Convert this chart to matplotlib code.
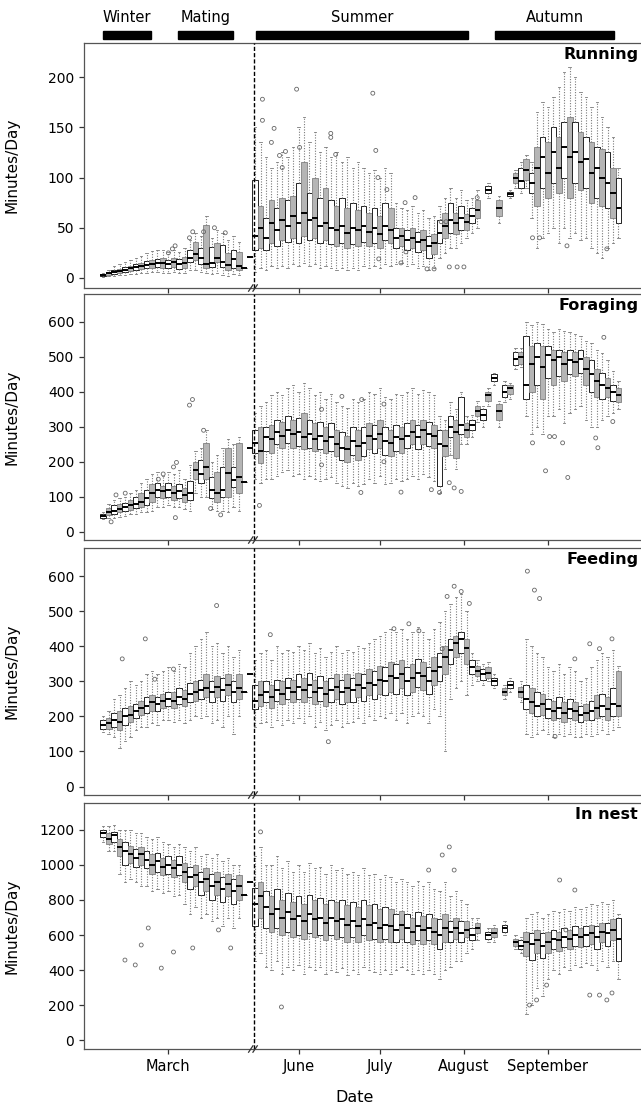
import numpy as np
import matplotlib
matplotlib.use("Agg")
import matplotlib.pyplot as plt
from matplotlib.transforms import blended_transform_factory

nan = float("nan")

# one box every second day, left block = winter/mating, right block = summer/autumn
left_days = list(range(36, 92, 2))
right_days = list(range(136, 272, 2))
days = left_days + right_days
BREAK = 91.5   # where the axis is cut
GAP = 44       # days removed between the two blocks

month_names = ["March", "June", "July", "August", "September"]
month_days = [60, 152, 182, 213, 244]

season_names = ["Winter", "Mating", "Summer", "Autumn"]
season_start = [36, 63.7, 136.4, 224.6]
season_end = [53.7, 83.7, 214.6, 268.3]

# ---------------- Running ----------------
run_med = [3, 5, 6, 7, 8, 10, 11, 12, 13, 14, 15, 15, 14, 16, 14, 15, 20, 24, 20, 14, 15, 20, 16, 13, 19, 12, 10, 21,
           42, 50, 40, 55, 48, 58, 52, 62, 55, 65, 58, 60, 52, 55, 50, 48, 52, 45, 50, 48,
           52, 46, 50, 44, 52, 48, 40, 42, 38, 40, 36, 38, 32, 35, 45, 52, 58, 55, 60, 56,
           62, 68, nan, 88, nan, 70, nan, 84, 100, 97, 108, 95, 110, 120, 105, 125, 110, 130, 120, 125,
           115, 118, 105, 110, 100, 95, 85, 70]
run_q1 = [2, 3, 4, 5, 6, 7, 8, 9, 10, 10, 11, 10, 10, 11, 9, 10, 16, 18, 14, 10, 11, 16, 11, 8, 10, 8, 10, 21,
          28, 30, 28, 35, 32, 38, 36, 40, 35, 42, 38, 40, 35, 38, 34, 32, 35, 30, 34, 32,
          36, 32, 35, 30, 38, 35, 30, 32, 28, 30, 26, 28, 20, 24, 35, 40, 45, 44, 48, 48,
          55, 60, nan, 85, nan, 62, nan, 82, 95, 90, 98, 85, 72, 90, 80, 95, 85, 100, 80, 95,
          88, 90, 75, 80, 72, 70, 60, 55]
run_q3 = [4, 6, 8, 9, 11, 12, 14, 15, 17, 18, 19, 20, 18, 20, 19, 21, 28, 36, 30, 53, 31, 35, 33, 25, 28, 26, 10, 21,
          98, 72, 60, 78, 70, 80, 78, 82, 95, 115, 85, 100, 80, 90, 78, 72, 80, 70, 75, 68,
          72, 65, 70, 62, 75, 70, 50, 50, 48, 50, 46, 48, 42, 44, 58, 65, 75, 65, 72, 64,
          70, 78, nan, 92, nan, 78, nan, 86, 105, 110, 118, 105, 130, 140, 135, 150, 140, 155, 160, 155,
          145, 140, 135, 130, 128, 125, 110, 100]
run_lo = [1, 2, 2, 3, 3, 4, 4, 5, 5, 6, 6, 5, 5, 6, 5, 5, 8, 8, 6, 5, 4, 5, 3, 2, 4, 3, 10, 21,
          6, 10, 8, 12, 10, 12, 10, 14, 12, 15, 12, 14, 10, 12, 10, 8, 10, 8, 10, 8,
          12, 10, 12, 10, 14, 12, 14, 15, 12, 14, 10, 12, 8, 10, 20, 25, 30, 30, 35, 40,
          45, 50, nan, 80, nan, 55, nan, 80, 90, 85, 90, 60, 30, 40, 45, 50, 35, 50, 40, 45,
          38, 40, 30, 25, 20, 30, 35, 40]
run_hi = [5, 8, 12, 14, 16, 18, 20, 22, 25, 27, 28, 28, 26, 28, 26, 30, 38, 45, 42, 62, 40, 48, 45, 38, 42, 36, 10, 21,
          150, 135, 120, 110, 115, 125, 120, 130, 150, 160, 135, 145, 125, 130, 120, 125, 115, 120, 110, 115,
          110, 105, 108, 100, 110, 105, 75, 70, 68, 72, 65, 68, 60, 62, 72, 80, 90, 80, 88, 78,
          80, 88, nan, 95, nan, 82, nan, 88, 108, 115, 122, 115, 165, 175, 170, 180, 190, 205, 210, 200,
          185, 180, 170, 175, 160, 150, 140, 110]
run_out_day = [61.5, 62.5, 60, 67.8, 69, 73, 77, 81,
               138.7, 138.7, 151.3, 179.4, 143, 142, 152.4, 163.9, 163.9, 165.7, 147.2, 145, 146,
               180.5, 181.3, 184.6, 195, 191.3, 206.4, 204.6, 191.6, 189.8, 181.6, 199.4, 202,
               207.6, 210.5, 213, 238.3, 240.9, 251, 265.7, 217.9]
run_out_val = [29, 32, 25, 40, 46, 46, 50, 45,
               178, 157, 188, 184, 149, 135, 130, 144, 140, 123, 126, 122, 110,
               127, 100, 88, 80, 75, 56, 56, 26, 15, 19, 9, 9,
               11, 11, 11, 40, 40, 32, 29, 80]

# ---------------- Foraging ----------------
for_med = [45, 55, 60, 65, 70, 75, 80, 85, 95, 110, 120, 115, 120, 110, 115, 105, 110, 175, 165, 185, 118, 110, 118, 168, 148, 157, 143, 240,
           255, 230, 270, 265, 285, 275, 290, 280, 285, 270, 280, 265, 275, 260, 270, 250, 240, 235, 260, 245,
           255, 275, 265, 280, 260, 255, 270, 265, 275, 285, 270, 290, 280, 275, 250, 245, 300, 285, 305, 290,
           305, 345, 335, 390, 440, 345, 400, 410, 495, 500, 420, 480, 500, 470, 505, 490, 500, 480, 490, 485,
           495, 465, 450, 430, 420, 410, 400, 390]
for_q1 = [40, 48, 50, 55, 58, 62, 68, 70, 75, 85, 100, 95, 100, 90, 95, 85, 90, 150, 140, 150, 95, 86, 100, 100, 128, 110, 143, 240,
          225, 195, 230, 225, 250, 240, 255, 240, 245, 235, 240, 230, 235, 225, 230, 215, 205, 200, 220, 205,
          215, 235, 225, 240, 220, 215, 230, 225, 240, 250, 235, 250, 245, 240, 130, 215, 270, 210, 280, 270,
          290, 330, 320, 375, 430, 320, 385, 395, 478, 480, 380, 400, 420, 380, 440, 420, 445, 430, 450, 445,
          455, 420, 400, 385, 380, 385, 375, 370]
for_q3 = [50, 68, 75, 78, 82, 90, 98, 110, 120, 135, 140, 130, 140, 130, 135, 125, 145, 200, 205, 255, 155, 172, 186, 240, 184, 254, 143, 240,
          290, 300, 300, 305, 320, 315, 330, 320, 325, 340, 320, 310, 315, 300, 310, 290, 285, 275, 300, 290,
          300, 310, 305, 320, 300, 290, 305, 300, 310, 320, 305, 320, 315, 305, 290, 290, 330, 320, 385, 310,
          320, 360, 350, 400, 450, 365, 420, 420, 515, 515, 560, 530, 540, 530, 530, 520, 520, 515, 520, 515,
          520, 500, 490, 465, 455, 440, 420, 410]
for_lo = [35, 40, 40, 42, 45, 50, 50, 55, 55, 60, 70, 70, 75, 70, 70, 65, 60, 110, 100, 100, 65, 60, 60, 55, 70, 60, 143, 240,
          150, 140, 150, 150, 160, 170, 175, 160, 165, 150, 160, 150, 145, 150, 155, 140, 130, 125, 140, 130,
          135, 150, 140, 160, 135, 140, 150, 145, 150, 160, 150, 165, 155, 145, 110, 180, 220, 180, 250, 250,
          270, 315, 300, 360, 420, 300, 370, 380, 465, 470, 330, 280, 300, 280, 330, 330, 350, 310, 340, 350,
          360, 320, 300, 300, 320, 330, 340, 350]
for_hi = [55, 78, 90, 95, 100, 110, 120, 140, 150, 165, 170, 160, 170, 165, 175, 150, 190, 230, 240, 290, 200, 220, 240, 265, 250, 270, 143, 240,
          340, 360, 370, 390, 400, 390, 410, 420, 400, 425, 410, 390, 400, 380, 395, 370, 360, 355, 380, 370,
          380, 400, 395, 410, 385, 380, 395, 390, 400, 410, 395, 405, 400, 390, 330, 320, 370, 350, 400, 330,
          335, 375, 360, 410, 455, 375, 430, 425, 525, 525, 600, 590, 600, 595, 580, 570, 580, 575, 570, 565,
          560, 545, 540, 520, 510, 490, 460, 430]
for_out_day = [38.9, 44.1, 40.7, 67.8, 68.9, 73, 62.6, 79.3, 75.6, 61.9, 63, 58.1, 56.3,
               137.6, 207.6, 209.4, 212, 243.1, 251.3, 264.6, 238.3, 244.6, 246.4, 249.4, 262.4,
               267.9, 261.6, 168, 175.3, 183.5, 183.5, 175, 189.8, 204, 160.5, 160.5, 201]
for_out_val = [28, 110, 105, 362, 378, 290, 40, 48, 66, 185, 198, 165, 150,
               75, 140, 125, 115, 174, 155, 556, 254, 272, 272, 254, 240,
               315, 268, 387, 378, 365, 200, 112, 113, 112, 350, 191, 120]

# ---------------- Feeding ----------------
fed_med = [175, 180, 190, 185, 200, 205, 215, 225, 230, 240, 235, 245, 250, 245, 255, 250, 265, 270, 275, 280, 270, 285, 275, 290, 270, 280, 270, 320,
           245, 260, 270, 255, 275, 265, 280, 270, 285, 275, 290, 270, 280, 265, 275, 285, 270, 280, 275, 290,
           280, 295, 290, 305, 300, 315, 310, 320, 300, 310, 325, 315, 300, 330, 340, 370, 390, 410, 420, 395,
           340, 330, 320, 325, 300, nan, 270, 290, nan, 270, 250, 240, 230, 235, 220, 215, 225, 210, 220, 215,
           205, 210, 215, 225, 230, 220, 235, 230]
fed_q1 = [165, 165, 170, 160, 175, 185, 195, 205, 210, 215, 215, 225, 230, 225, 235, 230, 240, 245, 250, 255, 240, 255, 245, 260, 240, 250, 270, 320,
          220, 230, 240, 225, 245, 235, 250, 240, 250, 240, 255, 235, 245, 230, 240, 250, 235, 240, 240, 255,
          245, 260, 250, 265, 260, 270, 265, 280, 260, 270, 285, 275, 265, 290, 300, 320, 350, 370, 380, 350,
          320, 315, 305, 310, 290, nan, 260, 280, nan, 255, 220, 210, 200, 205, 195, 190, 195, 185, 195, 190,
          185, 190, 190, 195, 200, 190, 200, 200]
fed_q3 = [190, 195, 210, 215, 225, 230, 235, 245, 255, 260, 255, 265, 270, 270, 280, 275, 295, 300, 305, 320, 300, 315, 310, 320, 300, 320, 270, 320,
          290, 300, 300, 290, 305, 300, 310, 305, 320, 310, 325, 305, 315, 300, 310, 320, 305, 320, 310, 325,
          320, 335, 330, 345, 340, 355, 350, 360, 340, 350, 365, 355, 340, 370, 380, 400, 420, 430, 440, 420,
          360, 345, 335, 340, 310, nan, 280, 300, nan, 285, 290, 280, 270, 265, 250, 245, 255, 240, 250, 240,
          230, 235, 245, 260, 265, 255, 280, 330]
fed_lo = [155, 150, 140, 110, 130, 140, 160, 170, 170, 180, 175, 190, 190, 185, 190, 180, 190, 200, 195, 200, 180, 190, 170, 200, 150, 200, 270, 320,
          170, 180, 185, 170, 190, 175, 190, 180, 195, 180, 200, 170, 185, 160, 175, 190, 170, 180, 185, 195,
          180, 200, 190, 200, 195, 210, 190, 210, 180, 200, 210, 200, 180, 220, 200, 100, 250, 280, 300, 260,
          290, 300, 290, 300, 280, nan, 250, 270, nan, 240, 150, 140, 150, 160, 150, 140, 150, 145, 150, 140,
          140, 150, 145, 150, 160, 150, 160, 170]
fed_hi = [200, 215, 250, 260, 280, 300, 290, 300, 320, 330, 320, 330, 340, 330, 350, 340, 380, 400, 420, 440, 400, 410, 380, 400, 370, 390, 270, 320,
          360, 380, 390, 360, 400, 380, 390, 385, 400, 390, 410, 380, 395, 370, 385, 400, 380, 390, 385, 400,
          395, 410, 420, 430, 440, 450, 440, 450, 420, 440, 455, 440, 420, 450, 470, 500, 520, 540, 550, 500,
          380, 360, 350, 355, 320, nan, 290, 310, nan, 300, 420, 400, 380, 370, 340, 330, 350, 320, 340, 330,
          300, 310, 340, 360, 380, 370, 390, 345]
fed_out_day = [43, 51.5, 77.8, 55, 61.9,
               141.6, 163, 187.2, 192.7, 196.4, 206.8, 209.4, 212, 215, 236.4, 239, 240.9,
               259.4, 253.9, 263, 267.6, 246.6, 205]
fed_out_val = [364, 421, 516, 306, 335,
               433, 128, 450, 464, 444, 542, 571, 556, 522, 614, 560, 536,
               407, 364, 393, 421, 143, 393]

# ---------------- In nest ----------------
nest_med = [1180, 1150, 1170, 1100, 1080, 1060, 1040, 1060, 1030, 1000, 1020, 990, 1000, 980, 1000, 960, 930, 940, 900, 920, 880, 900, 860, 890, 850, 880, 830, 900,
            780, 820, 760, 720, 750, 700, 730, 690, 710, 680, 720, 690, 700, 670, 700, 680, 690, 660, 680, 650,
            690, 660, 670, 640, 660, 650, 630, 660, 640, 620, 650, 630, 640, 620, 600, 640, 620, 640, 610, 630,
            600, 640, nan, 600, 610, nan, 640, nan, 560, 540, 560, 550, 570, 540, 560, 580, 570, 590, 580, 600,
            590, 600, 610, 590, 620, 610, 630, 580]
nest_q1 = [1160, 1120, 1130, 1050, 1000, 1010, 990, 1000, 980, 950, 960, 940, 950, 930, 940, 900, 860, 880, 830, 850, 800, 830, 790, 820, 780, 800, 830, 900,
           650, 700, 640, 620, 640, 600, 620, 590, 600, 580, 610, 590, 600, 570, 600, 580, 590, 560, 590, 560,
           600, 570, 580, 560, 580, 560, 560, 580, 560, 550, 570, 550, 570, 550, 520, 560, 560, 580, 560, 590,
           570, 610, nan, 580, 590, nan, 620, nan, 540, 520, 480, 460, 500, 470, 500, 520, 510, 530, 520, 540,
           530, 540, 550, 520, 560, 540, 570, 450]
nest_q3 = [1200, 1180, 1190, 1150, 1130, 1110, 1090, 1100, 1080, 1060, 1070, 1040, 1050, 1030, 1050, 1010, 990, 1000, 960, 980, 950, 960, 930, 950, 920, 940, 830, 900,
           870, 900, 850, 820, 860, 800, 840, 790, 820, 780, 830, 800, 810, 780, 800, 790, 800, 770, 790, 760,
           800, 770, 780, 750, 760, 750, 720, 740, 720, 700, 730, 710, 720, 700, 690, 720, 680, 700, 680, 680,
           640, 670, nan, 620, 640, nan, 660, nan, 580, 570, 620, 610, 630, 610, 620, 630, 620, 640, 630, 650,
           640, 650, 660, 650, 670, 670, 690, 700]
nest_lo = [1130, 1080, 1080, 950, 900, 920, 900, 880, 880, 850, 860, 840, 850, 820, 830, 780, 720, 760, 700, 720, 680, 700, 650, 700, 640, 700, 830, 900,
           450, 500, 420, 400, 450, 380, 420, 400, 430, 380, 420, 400, 420, 380, 400, 390, 410, 370, 400, 380,
           420, 400, 390, 380, 400, 380, 400, 420, 400, 380, 400, 380, 400, 380, 350, 400, 420, 450, 450, 500,
           520, 570, nan, 560, 560, nan, 600, nan, 520, 500, 150, 200, 300, 250, 350, 400, 380, 420, 400, 430,
           420, 440, 430, 400, 450, 420, 450, 350]
nest_hi = [1220, 1220, 1230, 1200, 1200, 1200, 1180, 1180, 1160, 1150, 1160, 1130, 1120, 1100, 1120, 1100, 1080, 1100, 1050, 1060, 1040, 1060, 1020, 1040, 1000, 1000, 830, 900,
           1050, 1100, 1000, 1000, 1050, 980, 1020, 960, 1000, 960, 1010, 980, 990, 950, 1000, 970, 980, 950, 960, 940,
           980, 940, 950, 920, 940, 930, 900, 920, 900, 880, 910, 880, 900, 860, 850, 900, 820, 850, 800, 780,
           700, 700, nan, 640, 660, nan, 680, nan, 600, 590, 700, 720, 730, 700, 720, 740, 730, 750, 740, 760,
           750, 760, 780, 770, 790, 780, 800, 720]
nest_out_day = [44, 47.8, 52.6, 50, 57.4, 61.9, 69, 78.5, 83,
                138, 145.7, 205, 207.6, 209.4, 200, 237.2, 239.8, 248.3, 253.9, 263, 265.7, 267.6,
                259.4, 243.5, 250.6]
nest_out_val = [457, 429, 640, 543, 411, 503, 526, 629, 526,
                1189, 189, 1057, 1103, 971, 971, 200, 229, 914, 857, 257, 229, 269,
                257, 314, 629]


def xpos(d):
    d = np.asarray(d, dtype=float)
    return np.where(d > BREAK, d - GAP, d)


def draw_panel(ax, med, q1, q3, lo, hi, out_day, out_val):
    stats, where = [], []
    for d, m, a, b, l, h in zip(days, med, q1, q3, lo, hi):
        if np.isnan(m):
            continue
        stats.append(dict(med=m, q1=a, q3=b, whislo=l, whishi=h, fliers=[]))
        where.append(d)
    bp = ax.bxp(stats, positions=xpos(where), widths=2.1, capwidths=0.9,
                patch_artist=True, showfliers=False, manage_ticks=False,
                boxprops=dict(linewidth=0.7),
                medianprops=dict(color="black", linewidth=1.4),
                whiskerprops=dict(color="#7a7a7a", linewidth=0.8, linestyle=(0, (1, 1.4))),
                capprops=dict(color="#7a7a7a", linewidth=0.6))
    for i, box in enumerate(bp["boxes"]):
        if i % 2:
            box.set(facecolor="#b5b5b5", edgecolor="#8c8c8c")
        else:
            box.set(facecolor="white", edgecolor="#222222")
    ax.scatter(xpos(out_day), out_val, s=8, facecolors="none",
               edgecolors="#666666", linewidths=0.6, zorder=3)


W, H = 641, 1105
fig = plt.figure(figsize=(W / 100, H / 100), dpi=100)
plt.rcParams["font.family"] = ["DejaVu Sans"]

L = 84
XMIN, XMAX = 28.9, 234.3
panel_px = [(43, 288), (294, 540), (548, 795), (803, 1049)]
panels = [
    ("Running", run_med, run_q1, run_q3, run_lo, run_hi, run_out_day, run_out_val, (-10, 234), [0, 50, 100, 150, 200]),
    ("Foraging", for_med, for_q1, for_q3, for_lo, for_hi, for_out_day, for_out_val, (-24, 680), range(0, 700, 100)),
    ("Feeding", fed_med, fed_q1, fed_q3, fed_lo, fed_hi, fed_out_day, fed_out_val, (-24, 680), range(0, 700, 100)),
    ("In nest", nest_med, nest_q1, nest_q3, nest_lo, nest_hi, nest_out_day, nest_out_val, (-51, 1354), range(0, 1400, 200)),
]

axes = []
for (top, bot), (name, med, q1, q3, lo, hi, od, ov, ylim, yt) in zip(panel_px, panels):
    ax = fig.add_axes([L / W, 1 - bot / H, 1 - L / W, (bot - top) / H])
    draw_panel(ax, med, q1, q3, lo, hi, od, ov)
    ax.set_xlim(XMIN, XMAX)
    ax.set_ylim(*ylim)
    ax.set_yticks(list(yt))
    ax.set_xticks(xpos(month_days))
    ax.set_xticklabels([])
    ax.tick_params(axis="both", length=3.5, width=0.9, color="#333333", labelsize=10)
    ax.spines["right"].set_visible(False)
    for s in ("left", "bottom", "top"):
        ax.spines[s].set_color("#555555")
        ax.spines[s].set_linewidth(0.9)
    ax.axvline(BREAK, color="black", lw=1.0, ls=(0, (3, 1.5)), zorder=4)
    tr = blended_transform_factory(ax.transData, ax.transAxes)
    for dx in (-1.1, 0.5):
        ax.plot([BREAK + dx - 0.8, BREAK + dx + 0.8], [-0.013, 0.013], transform=tr,
                color="#333333", lw=0.9, clip_on=False, zorder=5)
    ax.text(0.995, 0.985, name, transform=ax.transAxes, ha="right", va="top",
            fontsize=11.5, fontweight="bold")
    ax.set_ylabel("Minutes/Day", fontsize=11)
    ax.yaxis.set_label_coords(-0.115, 0.5)
    axes.append(ax)

axes[-1].set_xticklabels(month_names, fontsize=10.5)
axes[-1].set_xlabel("Date", fontsize=11.5)
axes[-1].xaxis.set_label_coords(0.485, -0.165)

# season bars above the first panel
ax_s = fig.add_axes([L / W, 1 - 43 / H, 1 - L / W, 43 / H])
ax_s.set_xlim(XMIN, XMAX)
ax_s.set_ylim(0, 1)
ax_s.axis("off")
for name, a, b in zip(season_names, season_start, season_end):
    x0, x1 = xpos([a, b])
    ax_s.add_patch(plt.Rectangle((x0, 0.1), x1 - x0, 0.19, color="black"))
    ax_s.text((x0 + x1) / 2, 0.6, name, ha="center", va="center", fontsize=10.5)

fig.savefig("out.png", dpi=100)
